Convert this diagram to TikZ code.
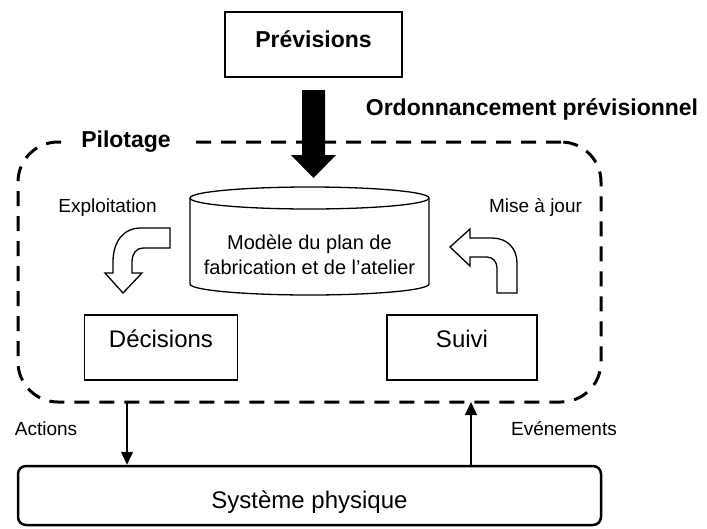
\documentclass[tikz,border=0pt]{standalone}
\usepackage{fontspec}
\setmainfont{Liberation Sans}
\usetikzlibrary{arrows.meta}
\begin{document}
\begin{tikzpicture}[x=1pt,y=1pt,
  lbl/.style={font=\fontsize{19}{23}\selectfont, anchor=base, inner sep=0pt},
  boldtext/.style={font=\bfseries\fontsize{23}{28}\selectfont},
  stagebox/.style={draw, line width=1.3pt, minimum height=65pt, inner sep=0pt,
    font=\fontsize{24}{29}\selectfont, text height=17pt, text depth=17pt},
  conn/.style={line width=1.5pt, -{Triangle[length=13pt,width=12pt]}},
  bendarrow/.style={draw, line width=1.3pt, line join=miter},
]
\useasboundingbox (0,0) rectangle (707,-528);

% control loop frame
\node[draw, line width=3pt, dash pattern=on 15pt off 10pt, rounded corners=40pt,
  minimum width=583pt, minimum height=260pt, inner sep=0pt] (pil) at (309.5,-272) {};
\node[boldtext, fill=white, inner xsep=16pt, inner ysep=2pt, anchor=base] (piltitle) at (126,-147) {Pilotage};

% forecast input
\node[draw, line width=2.3pt, minimum width=177pt, minimum height=65pt, inner sep=0pt,
  boldtext, text height=15pt, text depth=10pt] (prev) at (313.5,-44.5) {Prévisions};

\coordinate (fatTop) at (313.5,-90);
\coordinate (fatTip) at (313.5,-178);
\fill (fatTop) ++(-11.5,0) -- ++(23,0) -- ++(0,-65) -- ++(11,0) -- (fatTip)
  -- ++(-22.5,23) -- ++(11,0) -- cycle;
\node[boldtext, anchor=base] (ordo) at (532,-115) {Ordonnancement prévisionnel};

% shop-floor model (cylinder)
\draw[line width=1.3pt] (190,-198) -- (190,-284)
  arc[start angle=180, end angle=360, x radius=119.5, y radius=11] -- (429,-198);
\draw[line width=1.3pt] (309.5,-198) ellipse[x radius=119.5, y radius=11];
\node[font=\fontsize{20}{25}\selectfont, align=center] (model) at (309.5,-255)
  {Modèle du plan de\\fabrication et de l’atelier};

% bent arrows
\node[lbl] (expl) at (107.5,-212) {Exploitation};
\draw[bendarrow] (170,-228) -- (140,-228) .. controls (125,-228) and (113,-240) .. (113,-262)
  -- (113,-273) -- (105,-273) -- (123,-293) -- (142,-273) -- (132,-273) -- (132,-262)
  .. controls (132,-254) and (136,-248) .. (143,-248) -- (170,-248) -- cycle;

\node[lbl] (maj) at (535.5,-212) {Mise à jour};
\draw[bendarrow] (450,-247) -- (470,-229) -- (470,-238) -- (492,-238)
  .. controls (507,-238) and (517,-248) .. (517,-263) -- (517,-293) -- (497,-293)
  -- (497,-268) .. controls (497,-262) and (493,-257) .. (487,-257) -- (470,-257)
  -- (470,-266) -- cycle;

% decision and monitoring
\node[stagebox, minimum width=153pt] (dec) at (161,-347.5) {Décisions};
\node[stagebox, minimum width=150pt] (suivi) at (462,-347.5) {Suivi};

% physical system
\node[draw, line width=2.5pt, rounded corners=8pt, minimum width=583pt, minimum height=59pt,
  inner sep=0pt, font=\fontsize{24}{29}\selectfont, text height=25pt, text depth=0pt]
  (sys) at (309.5,-495.5) {Système physique};

\coordinate (actTop) at (127,-402);
\coordinate (evtTop) at (471,-402);
\draw[conn] (actTop) -- (actTop |- sys.north);
\draw[conn] (evtTop |- sys.north) -- (evtTop);
\node[lbl] (act) at (46,-435) {Actions};
\node[lbl] (evt) at (564,-435) {Evénements};
\end{tikzpicture}
\end{document}
